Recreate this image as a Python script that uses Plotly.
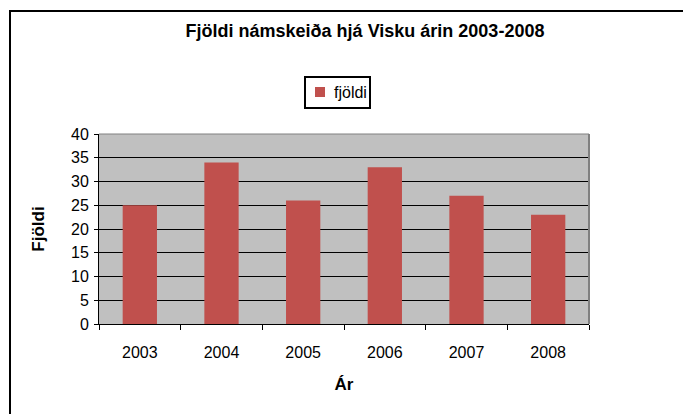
import plotly.graph_objects as go

years = ["2003", "2004", "2005", "2006", "2007", "2008"]
fjoldi = [25, 34, 26, 33, 27, 23]
y_ticks = [0, 5, 10, 15, 20, 25, 30, 35, 40]
series_name = "fjöldi"

# page body has an 8px default margin; design in window coords and shift
O = 8
W, H = 691 - O, 414 - O
L, R, T, B = 99 - O, 589 - O, 134 - O, 324 - O
pw, ph = R - L, B - T

def px(x):
    return (x - O - L) / pw

def py(y):
    return (B - (y - O)) / ph

BAR = "#C0504D"
font = "Liberation Sans, Arial, sans-serif"

fig = go.Figure()
fig.add_trace(go.Bar(x=years, y=fjoldi, name=series_name, marker_color=BAR,
                     marker_line_width=0, showlegend=False))

fig.update_layout(
    width=W, height=H,
    margin=dict(l=L, r=W - R, t=T, b=H - B),
    paper_bgcolor="white", plot_bgcolor="#C0C0C0",
    font=dict(family=font, size=16, color="black"),
    bargap=0.58,
    title=dict(text="<b>Fjöldi námskeiða hjá Visku árin 2003-2008</b>",
               x=(365 - O) / W, xanchor="center", y=1 - (31 - O) / H, yanchor="middle",
               font=dict(size=18, family=font)),
    xaxis=dict(type="category", showline=True, linecolor="black", linewidth=1,
               ticks="outside", tickson="boundaries", ticklen=5, tickcolor="black",
               showgrid=False, ticklabelstandoff=14,
               title=dict(text="<b>Ár</b>", standoff=17, font=dict(size=17))),
    yaxis=dict(range=[0, 40], tickvals=y_ticks, showline=True, linecolor="black",
               linewidth=1, ticks="outside", ticklen=4, tickcolor="black",
               showgrid=True, gridcolor="black", gridwidth=1, zeroline=False,
               ticklabelstandoff=2,
               title=dict(text="<b>Fjöldi</b>", standoff=22, font=dict(size=17))),
)

# plot-area top/right border (gray)
fig.add_shape(type="line", xref="paper", yref="paper", x0=0, x1=1, y0=1, y1=1,
              line=dict(color="#808080", width=1))
fig.add_shape(type="line", xref="paper", yref="paper", x0=1, x1=1, y0=0, y1=1,
              line=dict(color="#808080", width=2))
# outer chart frame
fig.add_shape(type="rect", xref="paper", yref="paper",
              x0=px(10), x1=px(760), y0=py(460), y1=py(11),
              line=dict(color="black", width=2), fillcolor="rgba(0,0,0,0)",
              layer="above")
# legend box
fig.add_shape(type="rect", xref="paper", yref="paper",
              x0=px(305), x1=px(370), y0=py(108), y1=py(77),
              line=dict(color="black", width=2), fillcolor="white")
fig.add_shape(type="rect", xref="paper", yref="paper",
              x0=px(315), x1=px(325), y0=py(97), y1=py(87),
              line=dict(width=0), fillcolor=BAR)
fig.add_annotation(text=series_name, xref="paper", yref="paper",
                   x=px(332), y=py(92.5), xanchor="left", yanchor="middle",
                   showarrow=False, font=dict(size=16, family=font))

fig.write_html("out.html")
